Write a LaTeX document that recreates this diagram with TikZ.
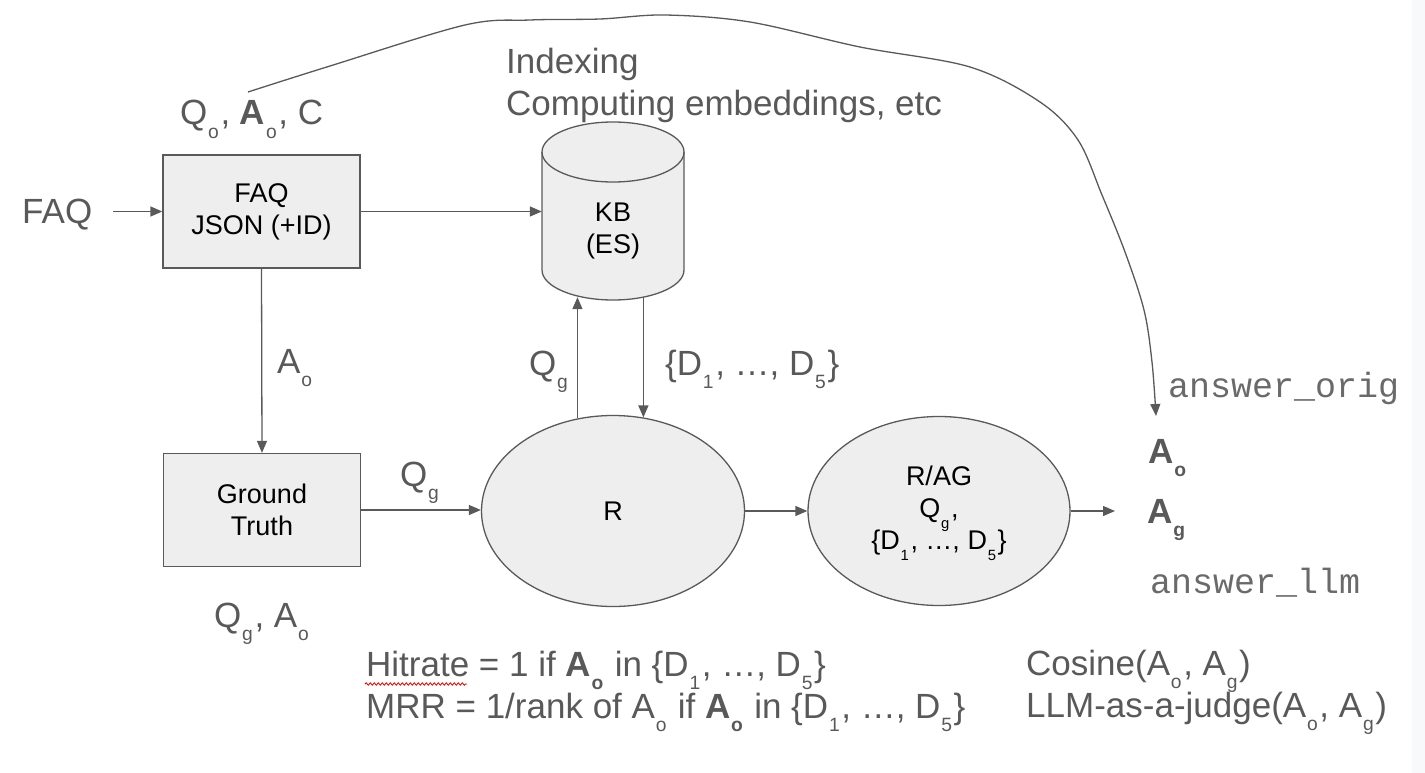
\documentclass[tikz,border=0pt]{standalone}
\usepackage{fontspec}
\setmainfont{Liberation Sans}
\setmonofont{Liberation Mono}
\usetikzlibrary{arrows.meta,shapes.geometric,decorations.pathmorphing,calc}
\definecolor{lg}{HTML}{595959}
\definecolor{mg}{HTML}{6A6A6A}
\definecolor{bf}{HTML}{EEEEEE}
\definecolor{stripc}{HTML}{F8F9FA}
\newcommand\sbx[1]{\kern0.8pt\raisebox{-0.38em}[0pt][0pt]{\scalebox{0.55}{#1}}\kern1.6pt\relax}
\begin{document}
\begin{tikzpicture}[x=1pt,y=-1pt,
  lbl/.style={inner sep=0, anchor=base west, text=lg, font=\fontsize{35}{40}\selectfont},
  mono/.style={inner sep=0, anchor=base west, text=mg, font=\ttfamily\fontsize{35}{40}\selectfont},
  blk/.style={draw=lg, fill=bf, line width=1.3pt, inner sep=0, align=center, text=black, font=\fontsize{27}{32}\selectfont},
  box/.style={blk, rectangle, minimum width=197pt, minimum height=113pt},
  oval/.style={blk, ellipse, minimum width=263pt, minimum height=191pt},
  arr/.style={draw=lg, line width=1.3pt, -{Triangle[length=12pt,width=10pt]}},
  cyl/.style={fill=bf, draw=lg, line width=1.3pt},
]
\useasboundingbox (0,0) rectangle (1425,773);
\fill[stripc] (1412,0) rectangle (1425,773);

% boxes and ovals
\node[box] (faq) at (261.5,211.5) {FAQ\\JSON (+ID)};
\node[box] (gt) at (262,510) {Ground\\Truth};
\node[oval] (r) at (613,511) {R};
\node[oval, minimum width=262pt, minimum height=189pt] (rag) at (939,511) {R/AG\\Q\sbx{g},\\\{D\sbx{1}, …, D\sbx{5}\}};

% cylinder KB
\node[inner sep=0, minimum width=142pt, minimum height=178pt] (kb) at (613,211) {};
\path[cyl] (542,152) -- (542,270) arc[start angle=180, end angle=360, x radius=71pt, y radius=30pt]
  -- (684,152) arc[start angle=0, end angle=180, x radius=71pt, y radius=30pt] -- cycle;
\draw[lg, line width=1.3pt] (542,152) arc[start angle=180, end angle=360, x radius=71pt, y radius=30pt];
\node[inner sep=0, align=center, text=black, font=\fontsize{27}{32}\selectfont] (kbtext) at (613,231) {KB\\(ES)};

% labels
\node[lbl] (faqlbl) at (22,223) {FAQ};
\node[lbl] (qac) at (180,125) {Q\sbx{o}, \textbf{A}\sbx{o}, C};
\node[lbl] (idx1) at (506,74) {Indexing};
\node[lbl] (idx2) at (506,116) {Computing embeddings, etc};
\node[lbl] (aolbl) at (277,373) {A\sbx{o}};
\node[lbl] (qglbl) at (400,486) {Q\sbx{g}};
\node[lbl] (qgao) at (214,627) {Q\sbx{g}, A\sbx{o}};
\node[lbl] (qgup) at (529,375) {Q\sbx{g}};
\node[lbl] (dset) at (665,375) {\{D\sbx{1}, …, D\sbx{5}\}};
\node[mono] (ansorig) at (1168,397) {answer\_orig};
\node[lbl] (aob) at (1148,463) {\textbf{A}\sbx{\textbf{o}}};
\node[lbl] (agb) at (1147,523) {\textbf{A}\sbx{\textbf{g}}};
\node[mono] (ansllm) at (1150,593) {answer\_llm};
\node[lbl] (hit) at (366,676) {Hitrate = 1 if \textbf{A}\sbx{\textbf{o}} in \{D\sbx{1}, …, D\sbx{5}\}};
\node[lbl] (mrr) at (366,718) {MRR = 1/rank of A\sbx{o} if \textbf{A}\sbx{\textbf{o}} in \{D\sbx{1}, …, D\sbx{5}\}};
\node[lbl] (cos) at (1026,675) {Cosine(A\sbx{o}, A\sbx{g})};
\node[lbl] (llm) at (1026,717) {LLM-as-a-judge(A\sbx{o}, A\sbx{g})};
\draw[red!85!black, line width=0.8pt, decorate, decoration={snake, amplitude=1.2pt, segment length=4pt}] (365,684) -- (467,684);

% connectors
\coordinate (outend) at (1115,511);
\coordinate (cs) at (248,92);
\coordinate (ce) at (1156,416);
\draw[arr] ([xshift=21pt]faqlbl.east |- faq.west) -- (faq.west);
\draw[arr] (faq.east) -- (faq.east -| kb.west);
\draw[arr] (faq.south) -- (gt.north);
\draw[arr] (gt.east) -- (gt.east -| r.west);
\draw[arr] (r.east) -- (rag.west);
\draw[arr] (rag.east) -- (outend);
\draw[arr] (r.111.4) -- ($(r.111.4 |- kb.south)+(0,-3)$);
\draw[arr] ($(r.72.7 |- kb.south)+(0,-3)$) -- (r.72.7);
\draw[arr] plot[smooth, tension=0.55] coordinates {(cs) (330,66) (465,25) (530,20) (600,19) (665,15) (750,22) (860,47) (970,67) (1040,102) (1078,140) (1102,195) (1125,252) (1144,310) (1152,362) (ce)};
\end{tikzpicture}
\end{document}
